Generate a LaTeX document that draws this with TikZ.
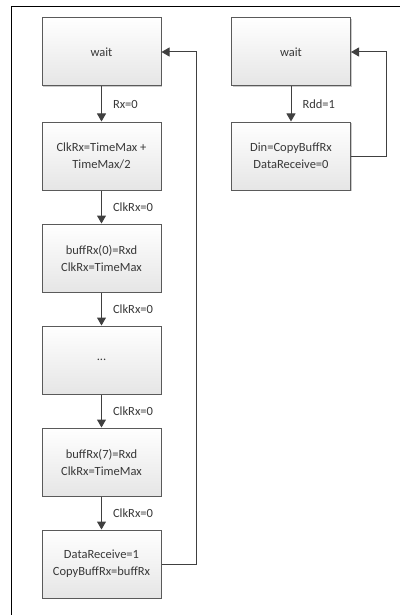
\documentclass[tikz,border=0pt]{standalone}
\usepackage{fontspec}
\setmainfont{Carlito}
\usetikzlibrary{arrows.meta,shadows,positioning}
\definecolor{linec}{HTML}{404040}
\definecolor{boxc}{HTML}{5A5A5A}
\definecolor{textc}{HTML}{383838}
\begin{document}
\begin{tikzpicture}[x=1pt,y=-1pt,
  statebox/.style={draw=boxc, line width=1pt, minimum width=119pt, minimum height=68pt,
    top color=white, bottom color=black!10, align=center, text=textc, font=\fontsize{12.5}{17}\selectfont,
    drop shadow={shadow xshift=1.2pt, shadow yshift=-1.2pt, opacity=0.35, fill=black!60}},
  conn/.style={draw=linec, line width=1pt, -{Triangle[length=8pt,width=9pt]}},
  lbl/.style={anchor=west, text=textc, font=\fontsize{12.5}{15}\selectfont, inner sep=0pt}]
\useasboundingbox (0,0) rectangle (400,615);
\draw[black, line width=1pt] (11,615) -- (11,7) -- (400,7);
\node[statebox] (w1) at (101.5,52) {wait};
\node[statebox] (s1) at (101.5,156) {ClkRx=TimeMax +\\TimeMax/2};
\node[statebox] (s2) at (101.5,258) {buffRx(0)=Rxd\\ClkRx=TimeMax};
\node[statebox] (s3) at (101.5,360) {...};
\node[statebox] (s4) at (101.5,462) {buffRx(7)=Rxd\\ClkRx=TimeMax};
\node[statebox] (s5) at (101.5,564) {DataReceive=1\\CopyBuffRx=buffRx};
\node[statebox] (w2) at (291,52) {wait};
\node[statebox] (r1) at (291,156) {Din=CopyBuffRx\\DataReceive=0};
\draw[conn] (w1) -- node[lbl, right=11pt] {Rx=0} (s1);
\draw[conn] (s1) -- node[lbl, right=11pt] {ClkRx=0} (s2);
\draw[conn] (s2) -- node[lbl, right=11pt] {ClkRx=0} (s3);
\draw[conn] (s3) -- node[lbl, right=11pt] {ClkRx=0} (s4);
\draw[conn] (s4) -- node[lbl, right=11pt] {ClkRx=0} (s5);
\draw[conn] (w2) -- node[lbl, right=11pt] {Rdd=1} (r1);
\coordinate (c1) at (196,564);
\coordinate (c2) at (196,52);
\draw[conn] (s5.east) -- (c1) -- (c2) -- (w1.east);
\coordinate (c3) at (386,156);
\coordinate (c4) at (386,52);
\draw[conn] (r1.east) -- (c3) -- (c4) -- (w2.east);
\end{tikzpicture}
\end{document}
